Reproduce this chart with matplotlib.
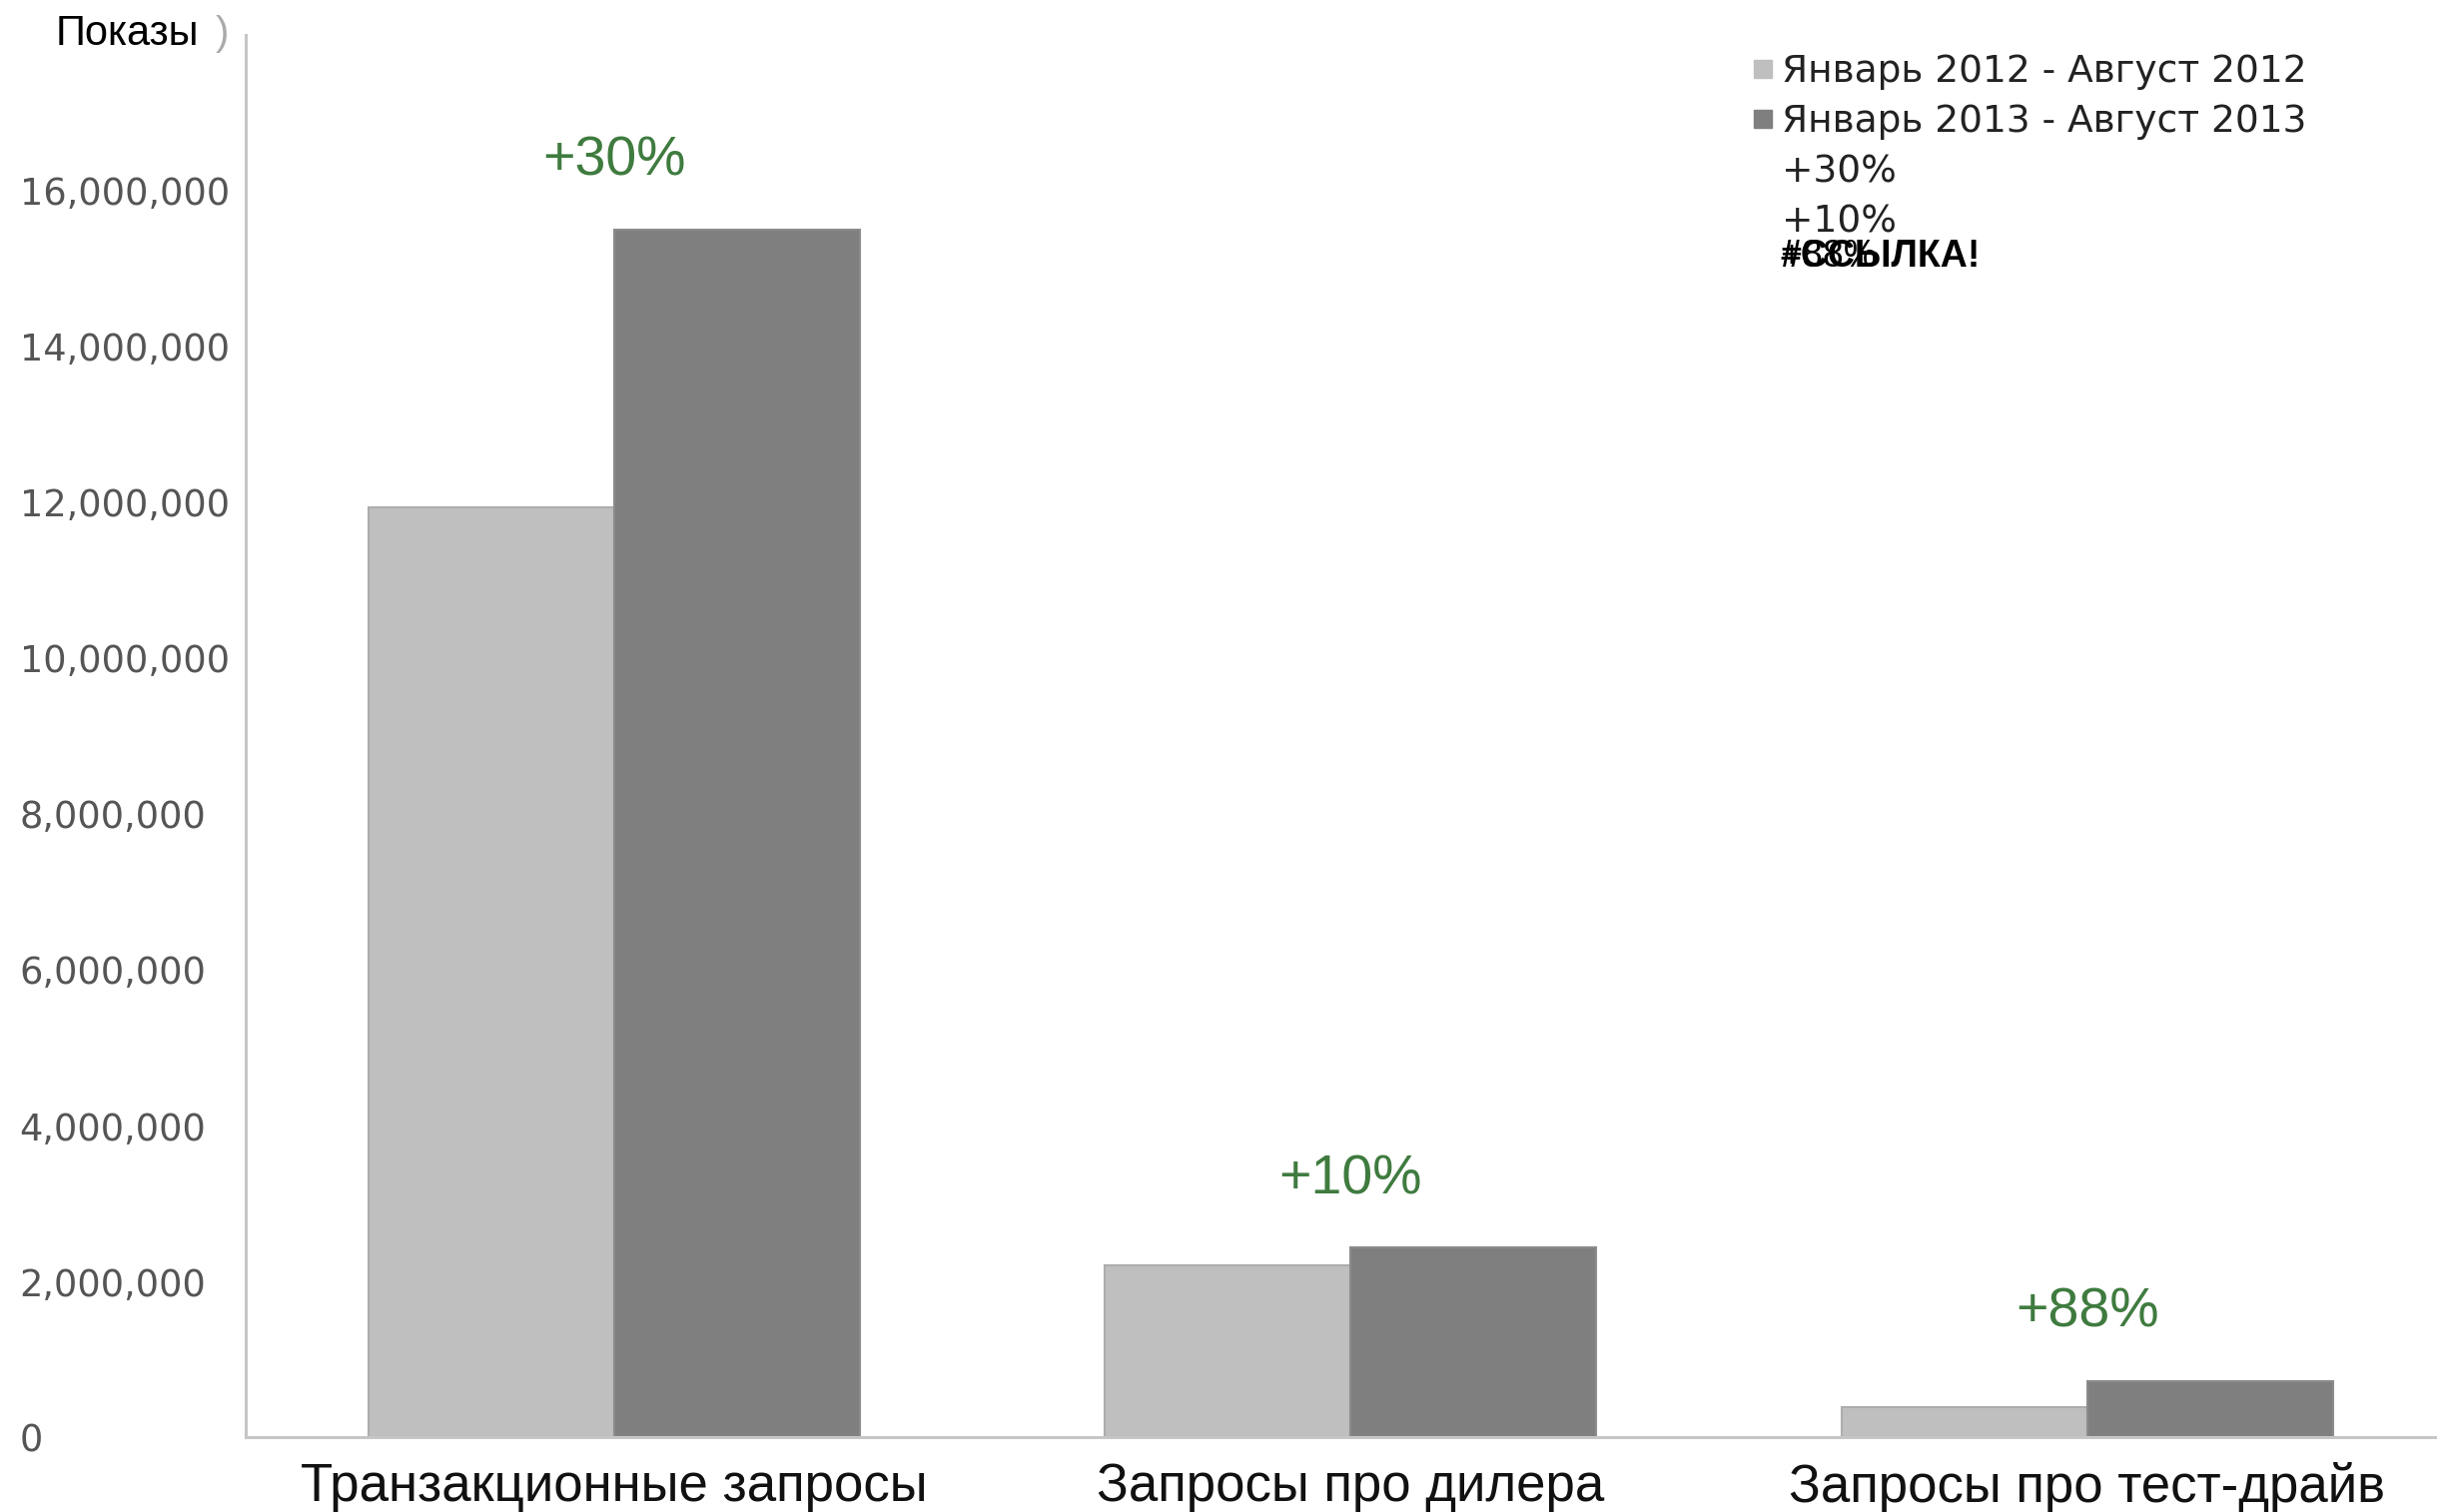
# -*- coding: utf-8 -*-

import numpy as np
import matplotlib.pyplot as plt
from matplotlib.lines import Line2D

# data
categories = ['Транзакционные запросы', 'Запросы про дилера', 'Запросы про тест-драйв']
series_names = ['Январь 2012 - Август 2012', 'Январь 2013 - Август 2013']
values_2012 = [11930000, 2210000, 380000]
values_2013 = [15500000, 2430000, 720000]
growth_labels = ['+30%', '+10%', '+88%']
yticks = [0, 2000000, 4000000, 6000000, 8000000, 10000000, 12000000, 14000000, 16000000]

c_light = '#bfbfbf'
c_dark = '#7f7f7f'
c_green = '#3f7b3f'
c_axis = '#c6c6c6'

fig = plt.figure(figsize=(24.4, 15.14), dpi=100)
ax = fig.add_axes([0.1008, 0.0495, 0.8992, 0.9275])

x = np.arange(len(categories))
w = 1.0 / 3

ax.bar(x - w / 2, values_2012, width=w, color=c_light, edgecolor='#adadad', linewidth=1.5)
ax.bar(x + w / 2, values_2013, width=w, color=c_dark, edgecolor='#8c8c8c', linewidth=1.5)

# growth labels above each group
for i in range(len(categories)):
    ax.annotate(growth_labels[i], (x[i], values_2013[i]), xytext=(0, 49),
                textcoords='offset points', ha='center', va='center',
                fontsize=40, color=c_green, family='Liberation Sans')

ax.set_xlim(-0.5, 2.475)
ax.set_ylim(0, 18000000)

# axes look
for s in ['top', 'right']:
    ax.spines[s].set_visible(False)
for s in ['left', 'bottom']:
    ax.spines[s].set_color(c_axis)
    ax.spines[s].set_linewidth(2.2)

ax.set_yticks(yticks)
ax.set_yticklabels(['{:,}'.format(v) for v in yticks])
for lbl in ax.get_yticklabels():
    lbl.set_ha('left')
ax.tick_params(axis='y', length=0, pad=163, labelsize=26.5, labelcolor='#555555')

ax.set_xticks(x)
ax.set_xticklabels(categories, family='Liberation Sans')
ax.tick_params(axis='x', length=0, pad=18, labelsize=38, labelcolor='#111111')

# y axis title in the corner
fig.text(0.023, 0.97, 'Показы', fontsize=30, family='Liberation Sans', color='black', va='baseline')
fig.text(0.0885, 0.97, ')', fontsize=29, family='Liberation Sans', color='#aaaaaa', va='baseline')

# legend
handles = [Line2D([], [], marker='s', linestyle='none', markersize=13, color=c_light),
           Line2D([], [], marker='s', linestyle='none', markersize=13, color=c_dark),
           Line2D([], [], linestyle='none'),
           Line2D([], [], linestyle='none')]
labels = series_names + ['+30%', '+10%']
leg = fig.legend(handles, labels, loc='upper left', bbox_to_anchor=(0.7193, 0.9645),
                 frameon=False, fontsize=27, borderpad=0, borderaxespad=0,
                 handlelength=0.55, handletextpad=0.22, labelspacing=0.38)
for t in leg.get_texts():
    t.set_color('#222222')

fig.text(0.7303, 1 - 257 / 1514, '+88%', fontsize=27, family='Liberation Sans', color='black', va='center')
fig.text(0.7303, 1 - 257 / 1514, '#ССЫЛКА!', fontsize=27, family='Liberation Sans', weight='bold', color='black', va='center')

plt.savefig('out.png', dpi=100)
